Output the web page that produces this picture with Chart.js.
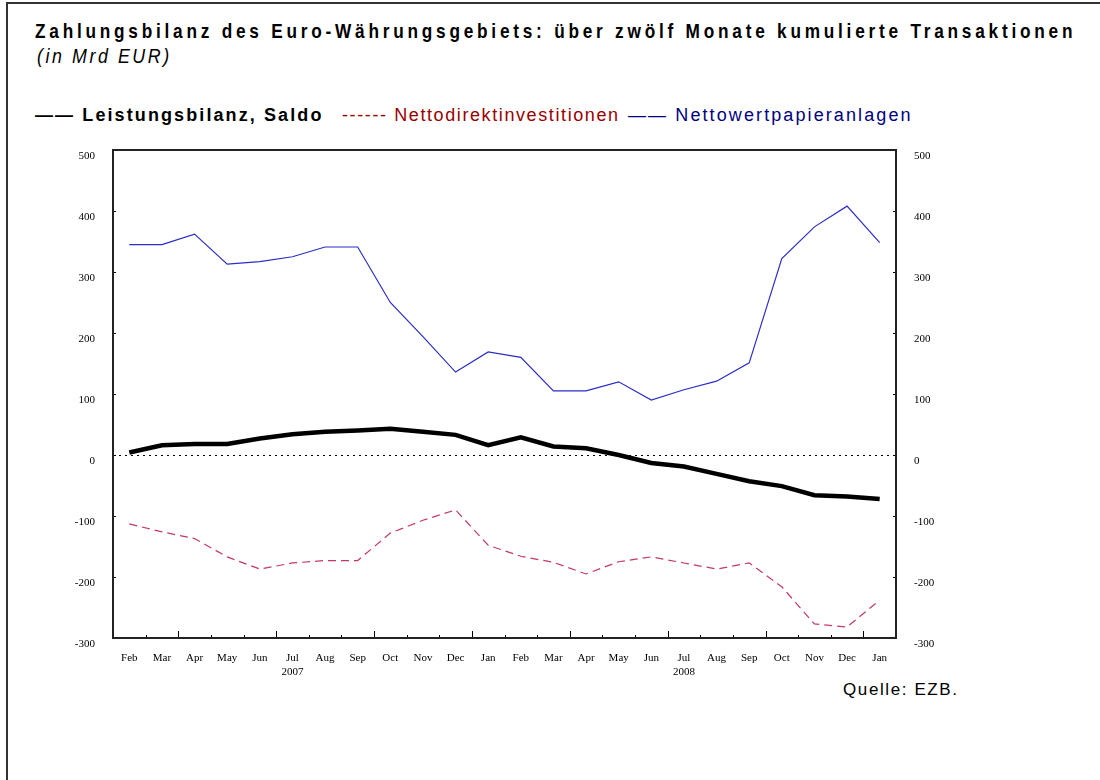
<!DOCTYPE html>
<html>
<head>
<meta charset="utf-8">
<script src="https://cdn.jsdelivr.net/npm/chart.js@4/dist/chart.umd.min.js"></script>
<style>
  html, body { margin: 0; padding: 0; background: #fff; overflow: hidden; }
  body { font-family: "Liberation Sans", Arial, sans-serif; }
  #page { position: relative; width: 1100px; height: 780px; overflow: hidden; }
  #lineTop { position: absolute; left: 6px; top: 2px; width: 1094px; height: 2px; background: #333; }
  #lineLeft { position: absolute; left: 6px; top: 2px; width: 2px; height: 778px; background: #333; }
  #title { position: absolute; left: 35px; top: 19px; font-size: 21px; font-weight: bold; color: #000; letter-spacing: 4.6px; white-space: nowrap; transform: scaleX(0.82); transform-origin: left top; }
  #subtitle { position: absolute; left: 37px; top: 44px; font-size: 21px; font-style: italic; color: #000; letter-spacing: 3px; white-space: nowrap; transform: scaleX(0.85); transform-origin: left top; }
  .leg { position: absolute; top: 105px; font-size: 18px; white-space: nowrap; letter-spacing: 2px; }
  #source { position: absolute; left: 843px; top: 680px; font-size: 17px; color: #000; letter-spacing: 1.6px; }
  canvas { position: absolute; left: 0; top: 0; }
</style>
</head>
<body>
<div id="page">
  <div id="lineTop"></div>
  <div id="lineLeft"></div>
  <div id="title">Zahlungsbilanz des Euro-Währungsgebiets: über zwölf Monate kumulierte Transaktionen</div>
  <div id="subtitle">(in Mrd EUR)</div>
  <div class="leg" style="left:35px;font-weight:bold;color:#000;letter-spacing:2.1px">—— Leistungsbilanz, Saldo</div>
  <div class="leg" style="left:342px;color:#990000;letter-spacing:1.6px">------ Nettodirektinvestitionen</div>
  <div class="leg" style="left:628px;color:#000080;letter-spacing:2.1px">—— Nettowertpapieranlagen</div>
  <div id="source">Quelle: EZB.</div>
  <canvas id="myChart" width="1100" height="780"></canvas>
</div>
<script>
const months = [
  'Feb', 'Mar', 'Apr', 'May', 'Jun', ['Jul', '2007'], 'Aug', 'Sep', 'Oct', 'Nov', 'Dec', 'Jan',
  'Feb', 'Mar', 'Apr', 'May', 'Jun', ['Jul', '2008'], 'Aug', 'Sep', 'Oct', 'Nov', 'Dec', 'Jan'
];

const leistungsbilanz = [4, 16, 18, 18, 27, 34, 38, 40, 43, 38, 33, 16,
                         29, 14, 11, 0, -13, -19, -31, -43, -51, -66, -68, -72];

const direktinvestitionen = [-113, -126, -137, -167, -187, -177, -173, -173, -128, -107, -90, -148,
                             -166, -176, -195, -175, -167, -177, -187, -177, -216, -277, -282, -238];

const wertpapieranlagen = [345, 345, 362, 313, 317, 325, 341, 341, 250, 194, 136, 169,
                           160, 105, 105, 120, 90, 107, 121, 151, 322, 374, 408, 348];

const yTicks = [-300, -200, -100, 0, 100, 200, 300, 400, 500];

const tickFont = { family: '"Liberation Serif", "DejaVu Serif", serif', size: 11 };

// box round the plot, inward tick marks and dotted zero line
const plotDecor = {
  id: 'plotDecor',
  afterDatasetsDraw(chart) {
    const { ctx, chartArea: a, scales } = chart;
    const x = scales.x, y = scales.y;
    ctx.save();
    // zero line
    ctx.strokeStyle = '#000';
    ctx.lineWidth = 1;
    ctx.setLineDash([2, 4]);
    ctx.beginPath();
    ctx.moveTo(a.left, Math.round(y.getPixelForValue(0)) + 0.5);
    ctx.lineTo(a.right, Math.round(y.getPixelForValue(0)) + 0.5);
    ctx.stroke();
    ctx.setLineDash([]);
    // y ticks on both sides
    yTicks.forEach(v => {
      const py = Math.round(y.getPixelForValue(v)) + 0.5;
      ctx.beginPath();
      ctx.moveTo(a.left, py); ctx.lineTo(a.left + 3, py);
      ctx.moveTo(a.right, py); ctx.lineTo(a.right - 3, py);
      ctx.stroke();
    });
    // x ticks at month boundaries, longer at quarters
    for (let i = 1; i < months.length; i++) {
      const px = Math.round((x.getPixelForValue(i - 1) + x.getPixelForValue(i)) / 2) + 0.5;
      const m = Array.isArray(months[i]) ? months[i][0] : months[i];
      const len = ['Jan', 'Apr', 'Jul', 'Oct'].includes(m) ? 7 : 3;
      ctx.beginPath();
      ctx.moveTo(px, a.bottom); ctx.lineTo(px, a.bottom - len);
      ctx.stroke();
    }
    // frame
    ctx.strokeStyle = '#222';
    ctx.lineWidth = 2;
    ctx.strokeRect(a.left, a.top, a.right - a.left, a.bottom - a.top);
    ctx.restore();
  }
};

const ctx = document.getElementById('myChart');

new Chart(ctx, {
  type: 'line',
  data: {
    labels: months,
    datasets: [{
      label: 'Leistungsbilanz, Saldo',
      data: leistungsbilanz,
      borderColor: '#000',
      borderWidth: 4.5,
      pointRadius: 0,
      tension: 0
    }, {
      label: 'Nettodirektinvestitionen',
      data: direktinvestitionen,
      borderColor: '#c23a64',
      borderWidth: 1.2,
      borderDash: [8, 5],
      pointRadius: 0,
      tension: 0
    }, {
      label: 'Nettowertpapieranlagen',
      data: wertpapieranlagen,
      borderColor: '#2a2ec4',
      borderWidth: 1.2,
      pointRadius: 0,
      tension: 0
    }]
  },
  options: {
    responsive: false,
    animation: false,
    layout: { padding: { left: 63, right: 154, top: 150, bottom: 102 } },
    plugins: {
      legend: { display: false },
      tooltip: { enabled: false }
    },
    scales: {
      x: {
        offset: true,
        grid: { display: false },
        border: { display: false },
        ticks: { color: '#000', font: tickFont, maxRotation: 0, autoSkip: false, padding: 6 },
        afterFit(scale) { scale.height = 40; }
      },
      y: {
        position: 'left',
        min: -300,
        max: 500,
        grid: { display: false },
        border: { display: false },
        afterBuildTicks(scale) { scale.ticks = yTicks.map(v => ({ value: v })); },
        ticks: { color: '#000', font: tickFont, padding: 10, labelOffset: 6 },
        afterFit(scale) { scale.width = 50; }
      },
      y2: {
        position: 'right',
        min: -300,
        max: 500,
        grid: { display: false },
        border: { display: false },
        afterBuildTicks(scale) { scale.ticks = yTicks.map(v => ({ value: v })); },
        ticks: { color: '#000', font: tickFont, padding: 10, labelOffset: 6 },
        afterFit(scale) { scale.width = 50; }
      }
    }
  },
  plugins: [plotDecor]
});
</script>
</body>
</html>
